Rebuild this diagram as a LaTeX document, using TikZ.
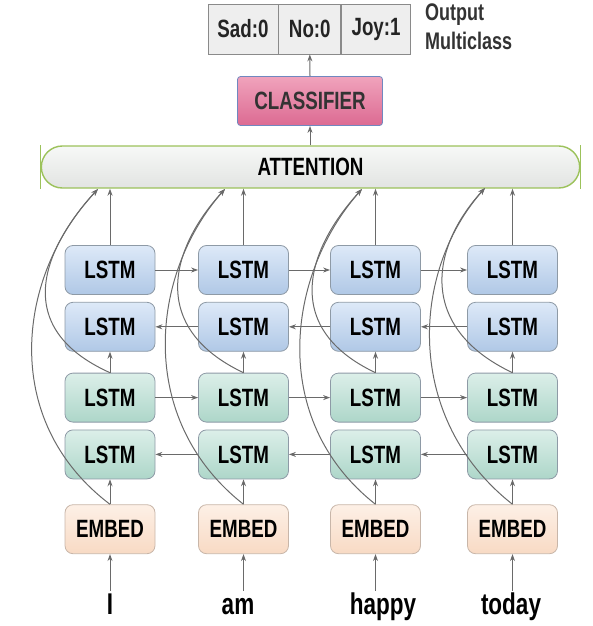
\documentclass[tikz,border=0pt]{standalone}
\usepackage{fontspec}
\setmainfont{Liberation Sans}[FakeStretch=0.75]
\usepackage{xcolor}
\usetikzlibrary{positioning,arrows.meta,shapes.misc}

\definecolor{blueTop}{HTML}{DDE9F8}
\definecolor{blueBot}{HTML}{B0C8E6}
\definecolor{greenTop}{HTML}{DCEFE9}
\definecolor{greenBot}{HTML}{ADD6C9}
\definecolor{embTop}{HTML}{FDF0E6}
\definecolor{embBot}{HTML}{F8DAC4}
\definecolor{boxBorder}{HTML}{8E9AA6}
\definecolor{clsTop}{HTML}{F0A3BC}
\definecolor{clsBot}{HTML}{DC6A92}
\definecolor{clsBorder}{HTML}{7088C0}
\definecolor{attTop}{HTML}{F7F8F7}
\definecolor{attBot}{HTML}{E2E4E2}
\definecolor{attBorder}{HTML}{9CC25B}
\definecolor{cellFill}{HTML}{EEEEEE}
\definecolor{cellBorder}{HTML}{8A8A8A}
\definecolor{lineGray}{HTML}{6A6A6A}
\definecolor{textGray}{HTML}{333333}

\begin{document}
\begin{tikzpicture}[x=1pt, y=-1pt,
  box/.style={rectangle, rounded corners=8pt, draw=boxBorder, line width=0.8pt,
    minimum width=90pt, minimum height=49pt, inner sep=0pt,
    font=\bfseries\fontsize{25}{25}\selectfont},
  lstmtop/.style={box, top color=blueTop, bottom color=blueBot},
  lstmlow/.style={box, top color=greenTop, bottom color=greenBot},
  embed/.style={box, top color=embTop, bottom color=embBot, draw=embBot!60!gray},
  cell/.style={rectangle, draw=cellBorder, fill=cellFill, line width=0.8pt,
    minimum height=50pt, inner sep=0pt, text=textGray!70!black,
    font=\bfseries\fontsize{25}{25}\selectfont},
  word/.style={anchor=base, inner sep=0pt, text height=23pt,
    font=\bfseries\fontsize{30}{30}\selectfont},
  link/.style={draw=lineGray, line width=1pt, -{Stealth[length=7pt,width=5pt]}}]

\useasboundingbox (0,0) rectangle (592,626);

% output classes
\node (sad) [cell, minimum width=70pt] at (243,29) {Sad:0};
\node (no) [cell, minimum width=62pt, right=0pt of sad] {No:0};
\node (joy) [cell, minimum width=69pt, right=0pt of no] {Joy:1};
\node (outlbl) [anchor=north west, align=left, inner sep=0pt, text=textGray,
  font=\bfseries\fontsize{24}{29}\selectfont] at (425,4) {Output\\Multiclass};

\node (cls) [rectangle, rounded corners=3pt, draw=clsBorder, line width=0.8pt,
  top color=clsTop, bottom color=clsBot, minimum width=145pt, minimum height=49pt,
  text=textGray, font=\bfseries\fontsize{25}{25}\selectfont] at (310,101) {CLASSIFIER};

\node (att) [rounded rectangle, draw=attBorder, line width=1.4pt,
  top color=attTop, bottom color=attBot, minimum width=545pt, minimum height=42pt,
  font=\bfseries\fontsize{25}{25}\selectfont] at (310.5,167) {ATTENTION};
\draw[attBorder, line width=0.8pt] ([yshift=22pt]att.west) -- ([yshift=-22pt]att.west);
\draw[attBorder, line width=0.8pt] ([yshift=22pt]att.east) -- ([yshift=-22pt]att.east);

% blue layer
\node (up1) [lstmtop] at (110,270) {LSTM};
\node (up2) [lstmtop] at (243.5,270) {LSTM};
\node (up3) [lstmtop] at (375.5,270) {LSTM};
\node (up4) [lstmtop] at (512.5,270) {LSTM};
\node (ub1) [lstmtop, below=7pt of up1] {LSTM};
\node (ub2) [lstmtop, below=7pt of up2] {LSTM};
\node (ub3) [lstmtop, below=7pt of up3] {LSTM};
\node (ub4) [lstmtop, below=7pt of up4] {LSTM};

% green layer
\node (lf1) [lstmlow, below=21pt of ub1] {LSTM};
\node (lf2) [lstmlow, below=21pt of ub2] {LSTM};
\node (lf3) [lstmlow, below=21pt of ub3] {LSTM};
\node (lf4) [lstmlow, below=21pt of ub4] {LSTM};
\node (lb1) [lstmlow, below=7pt of lf1] {LSTM};
\node (lb2) [lstmlow, below=7pt of lf2] {LSTM};
\node (lb3) [lstmlow, below=7pt of lf3] {LSTM};
\node (lb4) [lstmlow, below=7pt of lf4] {LSTM};

% embeddings and words
\node (emb1) [embed, below=25pt of lb1] {EMBED};
\node (emb2) [embed, below=25pt of lb2] {EMBED};
\node (emb3) [embed, below=25pt of lb3] {EMBED};
\node (emb4) [embed, below=25pt of lb4] {EMBED};
\node (w1) [word] at (110,614) {I};
\node (w2) [word] at (238,614) {am};
\node (w3) [word] at (383,614) {happy};
\node (w4) [word] at (511,614) {today};

% attention inputs
\coordinate (t1) at (98,189);
\coordinate (t2) at (225,189);
\coordinate (t3) at (362,189);
\coordinate (t4) at (485,188);

\draw[link] (cls.north) -- (no.south);
\draw[link] (att.north -| cls.south) -- (cls.south);

\draw[link] (up1.east) -- (up2.west);
\draw[link] (up2.east) -- (up3.west);
\draw[link] (up3.east) -- (up4.west);
\draw[link] (ub2.west) -- (ub1.east);
\draw[link] (ub3.west) -- (ub2.east);
\draw[link] (ub4.west) -- (ub3.east);
\draw[link] (lf1.east) -- (lf2.west);
\draw[link] (lf2.east) -- (lf3.west);
\draw[link] (lf3.east) -- (lf4.west);
\draw[link] (lb2.west) -- (lb1.east);
\draw[link] (lb3.west) -- (lb2.east);
\draw[link] (lb4.west) -- (lb3.east);

\draw[link] (up1.north) -- (up1.north |- att.south);
\draw[link] (up2.north) -- (up2.north |- att.south);
\draw[link] (up3.north) -- (up3.north |- att.south);
\draw[link] (up4.north) -- (up4.north |- att.south);
\draw[link] (lf1.north) -- (ub1.south);
\draw[link] (lf2.north) -- (ub2.south);
\draw[link] (lf3.north) -- (ub3.south);
\draw[link] (lf4.north) -- (ub4.south);
\draw[link] (emb1.north) -- (lb1.south);
\draw[link] (emb2.north) -- (lb2.south);
\draw[link] (emb3.north) -- (lb3.south);
\draw[link] (emb4.north) -- (lb4.south);
\draw[link] (emb1.south |- w1.north) -- (emb1.south);
\draw[link] (emb2.south |- w2.north) -- (emb2.south);
\draw[link] (emb3.south |- w3.north) -- (emb3.south);
\draw[link] (emb4.south |- w4.north) -- (emb4.south);

% skip curves into attention
\draw[link] (lf1.north) .. controls +(-100,-45) and +(-55,60) .. (t1);
\draw[link] (lf2.north) .. controls +(-95,-45) and +(-55,60) .. (t2);
\draw[link] (lf3.north) .. controls +(-95,-45) and +(-55,60) .. (t3);
\draw[link] (lf4.north) .. controls +(-95,-45) and +(-55,60) .. (t4);
\draw[link] (emb1.north) .. controls +(-112,-85) and +(-80,85) .. (t1);
\draw[link] (emb2.north) .. controls +(-108,-85) and +(-75,85) .. (t2);
\draw[link] (emb3.north) .. controls +(-108,-85) and +(-75,85) .. (t3);
\draw[link] (emb4.north) .. controls +(-108,-85) and +(-75,85) .. (t4);
\end{tikzpicture}
\end{document}
